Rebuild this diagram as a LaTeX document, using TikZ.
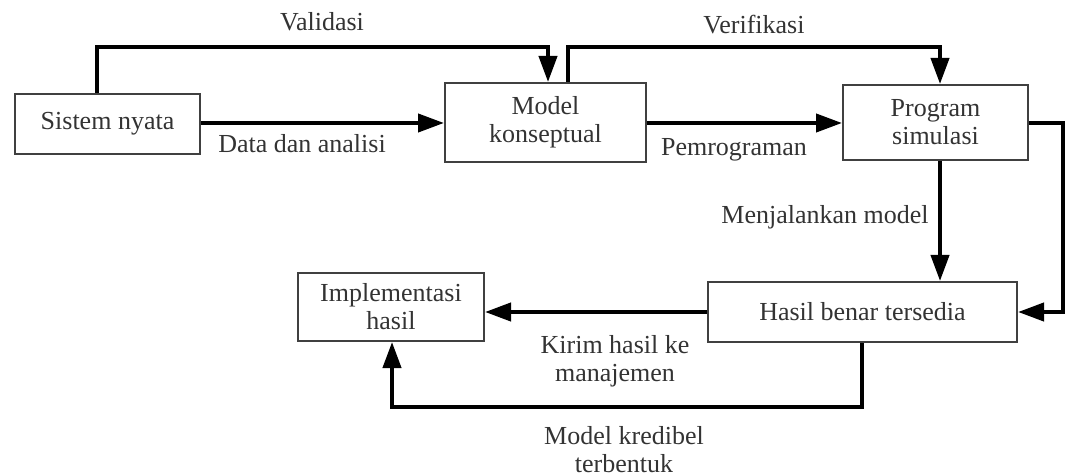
\documentclass[tikz,border=0pt]{standalone}
\usepackage{fontspec}
\setmainfont{Liberation Serif}
\usepackage{tikz}
\usetikzlibrary{arrows.meta}
\newcommand{\boxcolor}{black!75!white}
\newcommand{\labelcolor}{black!80!white}
\tikzset{
    box/.style={draw=\boxcolor, line width=1pt, fill=white, align=center, inner sep=0pt, text=\labelcolor, font=\fontsize{13}{14}\selectfont},
    flow/.style={->, line width=2pt},
    lbl/.style={align=center, text=\labelcolor, font=\fontsize{13}{14}\selectfont}
}
\begin{document}
\begin{tikzpicture}[x=0.5pt, y=-0.5pt, >={Triangle[length=13pt, width=9pt]}]
    \useasboundingbox (0, 0) rectangle (1067, 476);

    % boxes
    \node [box, minimum width=92.5pt, minimum height=30pt] (sistem) at (107.5, 124) {Sistem nyata};
    \node [box, minimum width=100.5pt, minimum height=39.5pt] (model) at (545.5, 122.5) {Model\\konseptual};
    \node [box, minimum width=92.5pt, minimum height=37.5pt] (program) at (935.5, 122.5) {Program\\simulasi};
    \node [box, minimum width=154.5pt, minimum height=30pt] (hasil) at (862.5, 312) {Hasil benar tersedia};
    \node [box, minimum width=93pt, minimum height=34pt] (impl) at (391, 307) {Implementasi\\hasil};

    % bends
    \coordinate (v1) at (97, 47);
    \coordinate (v2) at (548, 47);
    \coordinate (k1) at (568, 47);
    \coordinate (k2) at (940, 47);
    \coordinate (r1) at (1063, 123);
    \coordinate (r2) at (1063, 312);
    \coordinate (b1) at (862, 407);
    \coordinate (b2) at (392, 407);

    % arrows
    \draw [flow] (sistem.east |- r1) -- (model.west |- r1);
    \draw [flow] (sistem.north -| v1) -- (v1) -- (v2) -- (v2 |- model.north);
    \draw [flow] (model.north -| k1) -- (k1) -- (k2) -- (k2 |- program.north);
    \draw [flow] (model.east |- r1) -- (program.west |- r1);
    \draw [flow] (program.south -| k2) -- (k2 |- hasil.north);
    \draw [flow] (program.east |- r1) -- (r1) -- (r2) -- (hasil.east |- r2);
    \draw [flow] (hasil.west |- r2) -- (impl.east |- r2);
    \draw [flow] (hasil.south -| b1) -- (b1) -- (b2) -- (b2 |- impl.south);

    % labels
    \node [lbl] (lvalid) at (322, 22) {Validasi};
    \node [lbl] (ldata) at (302, 144) {Data dan analisi};
    \node [lbl] (lverif) at (754, 25) {Verifikasi};
    \node [lbl] (lprog) at (734, 150) {Pemrograman};
    \node [lbl] (lrun) at (825, 217) {Menjalankan model};
    \node [lbl] (lsend) at (615, 361) {Kirim hasil ke\\manajemen};
    \node [lbl] (lcred) at (624, 450) {Model kredibel\\terbentuk};
\end{tikzpicture}
\end{document}
